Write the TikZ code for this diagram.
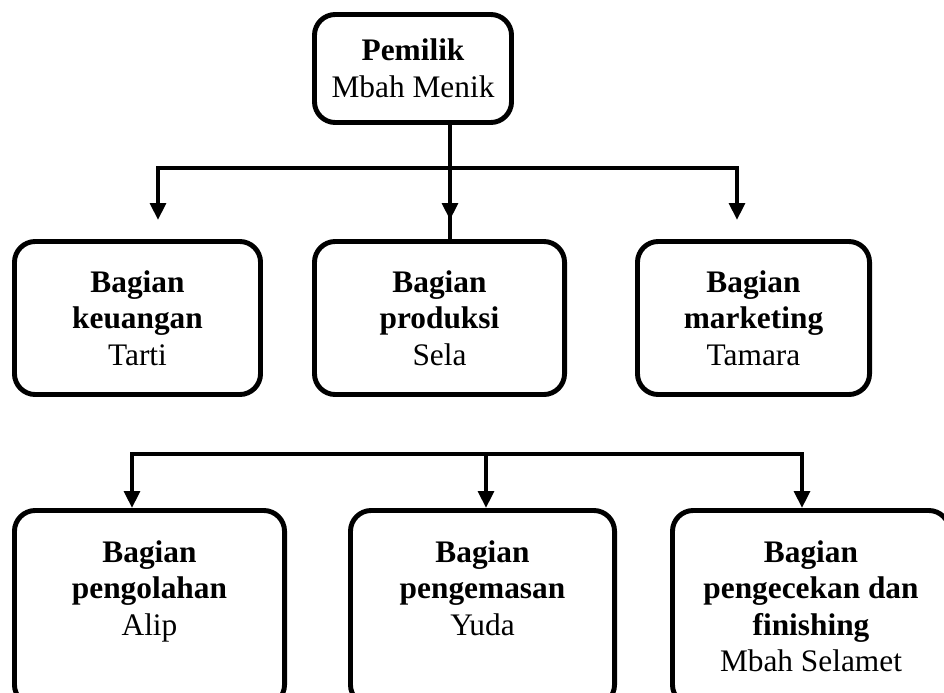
\documentclass[tikz,border=0pt]{standalone}
\usepackage{fontspec}
\setmainfont{Liberation Serif}
\usetikzlibrary{arrows.meta}

\begin{document}
\begin{tikzpicture}[x=0.025cm,y=-0.025cm,
  box/.style={draw,line width=3.5pt,rounded corners=0.52cm,align=center,
    font=\fontsize{22.3}{26}\selectfont},
  toptext/.style={anchor=north,inner sep=0pt,yshift=-0.8cm,align=center,
    font=\fontsize{22.3}{26}\selectfont},
  conn/.style={line width=3.5pt},
  arr/.style={line width=3.5pt,-{Triangle[width=11pt,length=12pt]}}]
\useasboundingbox (0,0) rectangle (944,692);
\clip (0,0) rectangle (944,692);
% pemilik
\node[box,minimum width=4.925cm,minimum height=2.7cm](owner) at (413,68.5){\textbf{Pemilik}\\Mbah Menik};
% baris tengah
\node[box,minimum width=6.15cm,minimum height=3.825cm](keu) at (137.5,318){\textbf{Bagian}\\\textbf{keuangan}\\Tarti};
\node[box,minimum width=6.25cm,minimum height=3.825cm](prod) at (439.5,318){\textbf{Bagian}\\\textbf{produksi}\\Sela};
\node[box,minimum width=5.8cm,minimum height=3.825cm](mkt) at (753.5,318){\textbf{Bagian}\\\textbf{marketing}\\Tamara};
% baris bawah
\node[box,minimum width=6.75cm,minimum height=4.875cm,
  label={[toptext]north:{\textbf{Bagian}\\\textbf{pengolahan}\\Alip}}](olah) at (149.5,608){};
\node[box,minimum width=6.6cm,minimum height=4.875cm,
  label={[toptext]north:{\textbf{Bagian}\\\textbf{pengemasan}\\Yuda}}](kemas) at (482.5,608){};
\node[box,minimum width=6.925cm,minimum height=4.875cm,
  label={[toptext]north:{\textbf{Bagian}\\\textbf{pengecekan dan}\\\textbf{finishing}\\Mbah Selamet}}](cek) at (811,608){};

\coordinate(jT) at (450,168);
\coordinate(tK) at (158,220);
\coordinate(tP) at (450,220);
\coordinate(tM) at (737,220);
\draw[conn](owner.south -| jT)--(prod.north -| jT);
\draw[arr](jT)-|(tK);
\draw[arr](jT)-|(tM);
\draw[arr](jT)--(tP);

\coordinate(jL) at (132,454);
\coordinate(jM) at (486,454);
\coordinate(jR) at (802,454);
\draw[arr](jM)-|(jL |- olah.north);
\draw[arr](jM)-|(jR |- cek.north);
\draw[arr](jM)--(jM |- kemas.north);
\end{tikzpicture}
\end{document}
